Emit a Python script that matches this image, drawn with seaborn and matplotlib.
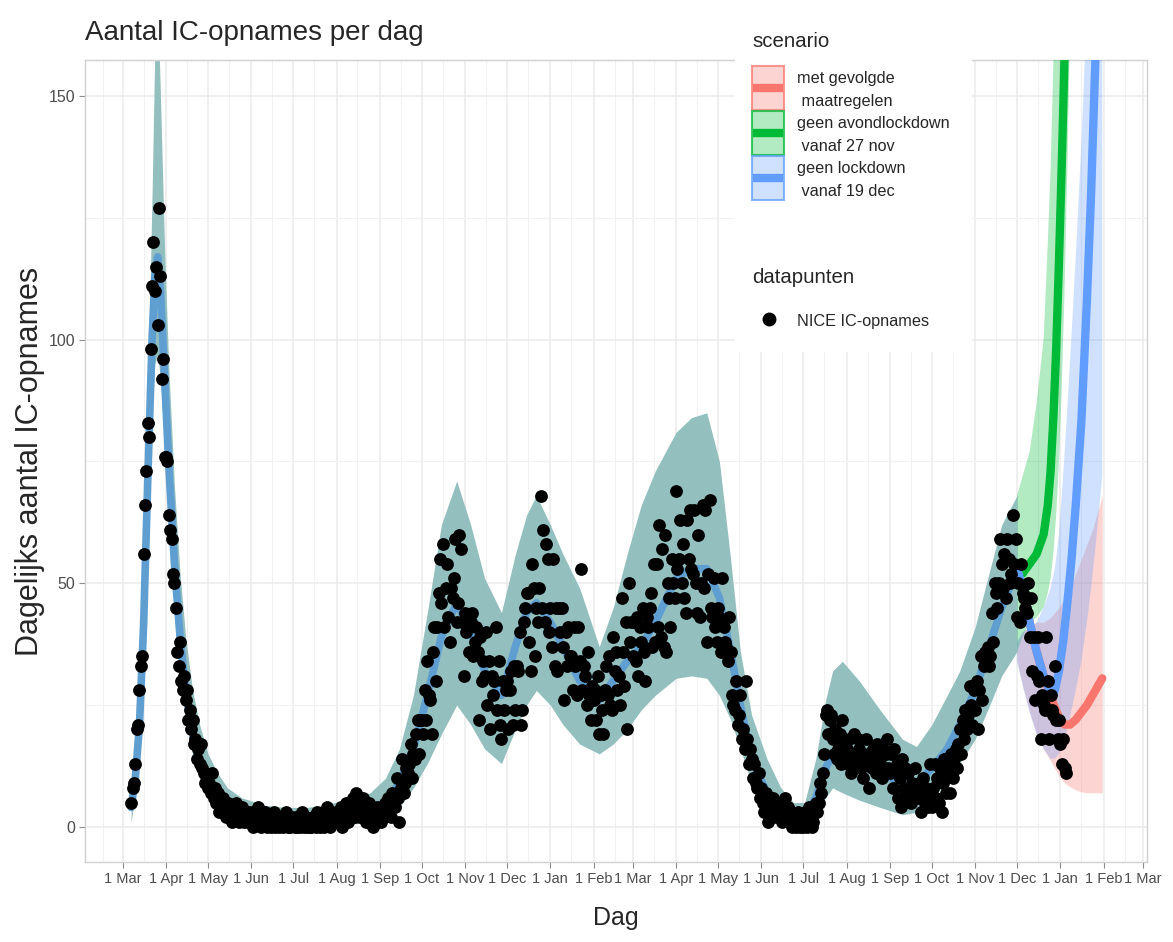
import numpy as np
import pandas as pd
import matplotlib
matplotlib.use("Agg")
import matplotlib.pyplot as plt
import matplotlib.dates as mdates
from matplotlib.ticker import FuncFormatter
from matplotlib.patches import Rectangle
from matplotlib.lines import Line2D
from matplotlib.colors import to_rgba
import seaborn as sns

# NICE IC-opnames per dag, start 7 maart 2020 (gelezen uit de figuur)
mar20 = [5, 8, 9, 13, 20, 21, 28, 33, 35, 56, 66, 73, 83, 80, 98, 111, 120, 110, 115, 103, 127, 113, 92, 96, 76]
apr20 = [76, 75, 64, 61, 59, 52, 50, 45, 36, 33, 38, 30, 28, 31, 26, 28, 22, 24, 20, 22, 17, 18, 14, 16, 13, 17, 12, 11, 9, 10]
may20 = [8, 9, 7, 11, 6, 8, 5, 7, 3, 5, 4, 6, 3, 2, 5, 3, 4, 1, 3, 2, 5, 3, 1, 2, 4, 2, 1, 3, 2, 1, 3]
jun20 = [2, 0, 3, 1, 2, 4, 1, 0, 2, 1, 3, 0, 1, 2, 0, 1, 3, 0, 2, 1, 0, 1, 2, 0, 1, 3, 0, 1, 0, 2]
jul20 = [1, 0, 2, 0, 1, 0, 3, 1, 0, 2, 0, 1, 0, 0, 2, 1, 0, 3, 1, 0, 2, 1, 0, 1, 4, 2, 0, 1, 3, 2, 1]
aug20 = [3, 1, 2, 4, 0, 2, 3, 5, 1, 2, 4, 3, 6, 2, 7, 3, 5, 2, 4, 6, 3, 1, 2, 5, 3, 4, 0, 2, 1, 4, 3]
sep20 = [3, 1, 4, 2, 5, 3, 6, 4, 2, 7, 5, 4, 10, 6, 1, 8, 14, 7, 9, 12, 11, 13, 17, 10, 15, 14, 19, 22, 15, 22]
oct20 = [22, 19, 28, 22, 34, 27, 26, 19, 36, 41, 30, 41, 48, 55, 46, 58, 41, 49, 54, 43, 38, 49, 47, 51, 59, 42, 46, 60, 57, 42, 31]
nov20 = [44, 40, 43, 36, 42, 44, 35, 38, 41, 36, 22, 39, 30, 34, 31, 40, 25, 34, 20, 31, 27, 30, 41, 24, 34, 21, 18, 30, 24, 28]
dec20 = [30, 20, 28, 32, 21, 33, 24, 33, 32, 40, 21, 24, 42, 45, 48, 48, 38, 32, 54, 49, 35, 45, 42, 49, 68, 45, 61, 42, 58, 55, 40]
jan21 = [45, 37, 55, 33, 45, 32, 45, 40, 45, 37, 26, 40, 33, 41, 35, 35, 28, 41, 33, 27, 41, 34, 53, 28, 33, 31, 25, 36, 27, 22, 29]
feb21 = [26, 28, 22, 31, 19, 27, 24, 19, 28, 33, 27, 35, 25, 24, 39, 32, 36, 28, 31, 25, 47, 36, 29, 42, 20, 50, 38, 42]
mar21 = [35, 42, 34, 43, 31, 41, 38, 45, 36, 30, 43, 41, 45, 48, 37, 54, 38, 54, 41, 62, 39, 57, 37, 60, 36, 50, 47, 41, 55, 50, 47]
apr21 = [69, 53, 55, 63, 50, 58, 47, 44, 63, 55, 65, 53, 52, 65, 50, 44, 60, 43, 50, 66, 49, 65, 38, 52, 67, 45, 43, 51, 41, 38]
may21 = [45, 43, 36, 51, 41, 38, 37, 34, 43, 36, 27, 25, 24, 30, 21, 23, 27, 18, 20, 16, 30, 18, 13, 16, 14, 10, 13, 9, 8, 11, 6]
jun21 = [8, 5, 3, 7, 4, 1, 5, 3, 6, 2, 4, 5, 3, 2, 4, 1, 3, 6, 2, 4, 1, 3, 0, 2, 1, 0, 3, 1, 0, 2]
jul21 = [0, 3, 1, 0, 4, 2, 0, 1, 4, 5, 3, 5, 9, 7, 11, 15, 23, 24, 19, 22, 23, 18, 15, 20, 14, 16, 19, 13, 22, 17, 14]
aug21 = [16, 13, 18, 11, 15, 19, 13, 14, 18, 16, 12, 15, 10, 13, 18, 15, 8, 14, 12, 16, 15, 11, 17, 13, 14, 10, 16, 12, 15, 18, 12]
sep21 = [11, 15, 8, 16, 12, 13, 6, 10, 4, 14, 8, 12, 6, 11, 8, 5, 9, 7, 12, 8, 6, 9, 3, 7, 10, 5, 8, 4, 6, 13]
oct21 = [4, 8, 13, 6, 10, 5, 12, 3, 9, 14, 7, 11, 13, 7, 15, 10, 14, 16, 12, 17, 20, 15, 22, 18, 24, 20, 23, 29, 25, 21, 28]
nov21 = [24, 30, 20, 28, 35, 26, 33, 36, 34, 37, 33, 35, 44, 38, 50, 48, 45, 50, 59, 54, 49, 56, 47, 59, 55, 50, 52, 64, 54, 59]
dec21 = [43, 50, 42, 54, 48, 47, 45, 44, 50, 39, 47, 32, 39, 26, 31, 39, 30, 18, 27, 25, 24, 39, 30, 18, 27, 24, 23, 33, 22, 18, 22]
jan22 = [17, 13, 18, 12, 11]

# modelfit (band + mediaan)
fit_dates = ["2020-03-07", "2020-03-10", "2020-03-13", "2020-03-16", "2020-03-19", "2020-03-22",
             "2020-03-24", "2020-03-26", "2020-03-28", "2020-03-31", "2020-04-03", "2020-04-07",
             "2020-04-11", "2020-04-15", "2020-04-20", "2020-04-25", "2020-05-01", "2020-05-08",
             "2020-05-15", "2020-05-25", "2020-06-10", "2020-06-25", "2020-07-10", "2020-07-25",
             "2020-08-10", "2020-08-25", "2020-09-05", "2020-09-15", "2020-09-25", "2020-10-05",
             "2020-10-15", "2020-10-26", "2020-11-05", "2020-11-15", "2020-11-27", "2020-12-07",
             "2020-12-15", "2020-12-22", "2021-01-01", "2021-01-10", "2021-01-22", "2021-02-05",
             "2021-02-15", "2021-02-25", "2021-03-07", "2021-03-17", "2021-04-01", "2021-04-12",
             "2021-04-23", "2021-05-02", "2021-05-10", "2021-05-17", "2021-05-25", "2021-06-05",
             "2021-06-15", "2021-06-24", "2021-07-02", "2021-07-10", "2021-07-17", "2021-07-22",
             "2021-07-29", "2021-08-10", "2021-08-25", "2021-09-10", "2021-09-20", "2021-10-01",
             "2021-10-12", "2021-10-21", "2021-11-01", "2021-11-10", "2021-11-20", "2021-12-01"]
fit_lo = [1, 7, 16, 34, 60, 85, 95, 97, 92, 78, 62, 45, 32, 23, 15, 10, 6, 3.5, 2, 1, 0, 0, 0, 0,
          0.5, 1, 2, 4, 8, 13, 19, 25, 21, 16, 13, 20, 25, 28, 25, 21, 17, 15, 17, 20, 24, 27,
          30.5, 31, 30.5, 27, 22, 16, 9, 3.5, 1, 0, 0, 2, 6, 8, 7, 5.5, 4, 2.5, 3, 6, 9, 13,
          18, 24, 31, 36]
fit_med = [4, 10, 21, 42, 72, 100, 113, 117, 110, 92, 74, 54, 39, 28, 19, 13, 8, 5, 3.5, 2.5, 1.5,
           1.2, 1.2, 1.5, 2.5, 3.5, 5, 9, 16, 27, 39, 46, 40, 32, 27, 37, 44, 46, 42, 37, 30, 26,
           30, 34, 37, 42, 51, 53, 53, 47, 36, 25, 14, 7, 3, 1, 1.5, 6, 12, 15, 14, 12.5, 11, 9,
           9, 12, 16, 21, 28, 36, 45, 53]
fit_hi = [6, 13, 27, 52, 90, 130, 160, 170, 150, 118, 94, 70, 52, 39, 28, 21, 15, 11, 8, 6, 4.5,
          4, 4, 4.5, 6, 7, 10, 16, 27, 44, 62, 71, 62, 51, 44, 56, 64, 68, 62, 56, 49, 37, 45,
          56, 66, 73, 81, 84, 85, 75, 55, 36, 23, 14, 8, 5, 5, 14, 26, 32, 34, 30, 24, 18, 16.5,
          21, 27, 32, 41, 51, 62, 68]

# scenario's
red_dates = ["2021-12-01", "2021-12-05", "2021-12-10", "2021-12-15", "2021-12-20", "2021-12-25",
             "2021-12-28", "2021-12-31", "2022-01-04", "2022-01-08", "2022-01-12", "2022-01-16",
             "2022-01-20", "2022-01-24", "2022-01-28", "2022-01-31"]
red_med = [53, 49, 42, 36, 31, 27, 24.5, 22.5, 21, 21, 22, 23.5, 25, 27, 29, 30.5]
red_lo = [34, 29, 23.5, 19, 16, 13.5, 12, 10.5, 9, 8.2, 7.6, 7.2, 7, 7, 7, 7]
red_hi = [38, 40, 41, 42, 42, 43, 44, 45, 47, 49, 52, 55, 58, 61, 65, 68]

green_dates = ["2021-12-01", "2021-12-05", "2021-12-10", "2021-12-15", "2021-12-20", "2021-12-23",
               "2021-12-25", "2021-12-27", "2021-12-29", "2021-12-31", "2022-01-02", "2022-01-04",
               "2022-01-06", "2022-01-08"]
green_med = [53, 52, 54, 56, 60, 66, 73, 84, 98, 116, 136, 158, 185, 215]
green_lo = [36, 39, 42, 43, 45, 48, 51, 56, 64, 75, 90, 110, 135, 165]
green_hi = [68, 72, 77, 87, 100, 120, 135, 157, 180, 200, 225, 250, 275, 300]

blue_dates = ["2021-12-01", "2021-12-05", "2021-12-10", "2021-12-15", "2021-12-20", "2021-12-25",
              "2021-12-28", "2021-12-31", "2022-01-03", "2022-01-06", "2022-01-09", "2022-01-12",
              "2022-01-16", "2022-01-20", "2022-01-23", "2022-01-26", "2022-01-28", "2022-01-31"]
blue_med = [53, 49, 42, 36, 31, 27.5, 28, 32, 38, 46, 55, 66, 83, 108, 130, 157, 180, 215]
blue_lo = [34, 29, 23.5, 19, 16, 14, 14, 15, 17, 20, 24, 28, 34, 42, 49, 57, 63, 72]
blue_hi = [38, 40, 41, 42, 45, 49, 53, 60, 72, 86, 101, 117, 140, 168, 190, 215, 230, 250]

scenario_labels = [("met gevolgde", " maatregelen"), ("geen avondlockdown", " vanaf 27 nov"),
                   ("geen lockdown", " vanaf 19 dec")]
scenario_colors = ["#F8766D", "#00BA38", "#619CFF"]

ic = mar20 + apr20 + may20 + jun20 + jul20 + aug20 + sep20 + oct20 + nov20 + dec20 + jan21 + feb21 + \
     mar21 + apr21 + may21 + jun21 + jul21 + aug21 + sep21 + oct21 + nov21 + dec21 + jan22
punten = pd.DataFrame({"dag": pd.date_range("2020-03-07", periods=len(ic), freq="D"), "ic": ic})

W, H = 1173, 942
sns.set_theme(style="white")
plt.rcParams['font.family'] = ['Liberation Sans', 'DejaVu Sans']

fig = plt.figure(figsize=(W / 100, H / 100), dpi=100)
ax = fig.add_axes([85 / W, 1 - 862 / H, (1147 - 85) / W, (862 - 60) / H])

# modelband + mediaan
fd = pd.to_datetime(fit_dates)
ax.fill_between(fd, fit_lo, fit_hi, color="#94BFBF", linewidth=0, zorder=2)
sns.lineplot(x=fd, y=fit_med, color="#5F9ED1", linewidth=5.5, ax=ax, zorder=3)

# scenario banden en lijnen
scen = [(red_dates, red_lo, red_med, red_hi), (green_dates, green_lo, green_med, green_hi),
        (blue_dates, blue_lo, blue_med, blue_hi)]
for (d, lo, med, hi), col in zip(scen, scenario_colors):
    ax.fill_between(pd.to_datetime(d), lo, hi, color=col, alpha=0.3, linewidth=0, zorder=4)
for (d, lo, med, hi), col in zip(scen, scenario_colors):
    sns.lineplot(x=pd.to_datetime(d), y=med, color=col, linewidth=6, ax=ax, zorder=5)

sns.scatterplot(data=punten, x="dag", y="ic", color="black", s=85, linewidth=0, ax=ax, zorder=6)

ax.set_xlim(pd.Timestamp("2020-02-03"), pd.Timestamp("2022-03-04"))
ax.set_ylim(-7.2, 157.4)
ax.set_yticks([0, 50, 100, 150])
ax.set_yticks([25, 75, 125], minor=True)
ax.xaxis.set_major_locator(mdates.MonthLocator())
ax.xaxis.set_minor_locator(mdates.MonthLocator(bymonthday=16))
ax.xaxis.set_major_formatter(FuncFormatter(lambda v, p: "1 " + mdates.num2date(v).strftime("%b")))
ax.grid(which="major", color="#EBEBEB", linewidth=1.1)
ax.grid(which="minor", color="#F1F1F1", linewidth=0.8)
ax.set_axisbelow(True)
ax.tick_params(which="major", length=4, width=0.8, color="#8C8C8C",
               labelcolor="#4D4D4D", pad=3, bottom=True, left=True)
ax.tick_params(axis="x", which="major", labelsize=10.5)
ax.tick_params(axis="y", which="major", labelsize=11.5)
ax.tick_params(which="minor", length=0)
for s in ax.spines.values():
    s.set_color("#D0D0D0")
    s.set_linewidth(1)
ax.set_xlabel("")
ax.set_ylabel("")

fig.text(85 / W, 1 - 40 / H, "Aantal IC-opnames per dag", fontsize=20, va="baseline", ha="left")
fig.text(616 / W, 1 - 918 / H, "Dag", fontsize=18, ha="center", va="center")
fig.text(30 / W, 1 - 461 / H, "Dagelijks aantal IC-opnames", fontsize=22, rotation=90,
         ha="center", va="center")

# legenda (handmatig opgebouwd zoals ggplot)
fig.add_artist(Rectangle((735 / W, 1 - 352 / H), (972 - 735) / W, (352 - 55) / H,
                         transform=fig.transFigure, facecolor="white", edgecolor="none", zorder=3))
fig.text(752 / W, 1 - 47 / H, "scenario", fontsize=14.7, va="baseline", zorder=6)
for i, (col, (l1, l2)) in enumerate(zip(scenario_colors, scenario_labels)):
    top = 65 + 45 * i
    fig.add_artist(Rectangle((752 / W, 1 - (top + 45) / H), 32 / W, 44 / H, transform=fig.transFigure,
                             facecolor=to_rgba(col, 0.3), edgecolor=to_rgba(col, 0.75),
                             linewidth=1.5, zorder=6))
    fig.add_artist(Line2D([753 / W, 783 / W], [1 - (top + 22.5) / H] * 2, transform=fig.transFigure,
                          color=col, linewidth=6, solid_capstyle="butt", zorder=7))
    fig.text(797 / W, 1 - (top + 18) / H, l1, fontsize=11.7, va="baseline", zorder=7)
    fig.text(797 / W, 1 - (top + 41) / H, l2, fontsize=11.7, va="baseline", zorder=7)
fig.text(752 / W, 1 - 283 / H, "datapunten", fontsize=14.7, va="baseline", zorder=6)
fig.add_artist(Line2D([769 / W], [1 - 319 / H], transform=fig.transFigure, marker="o",
                      color="black", markersize=9, linestyle="None", zorder=7))
fig.text(797 / W, 1 - 326 / H, "NICE IC-opnames", fontsize=11.7, va="baseline", zorder=7)

fig.savefig("out.png", dpi=100, facecolor="white")
